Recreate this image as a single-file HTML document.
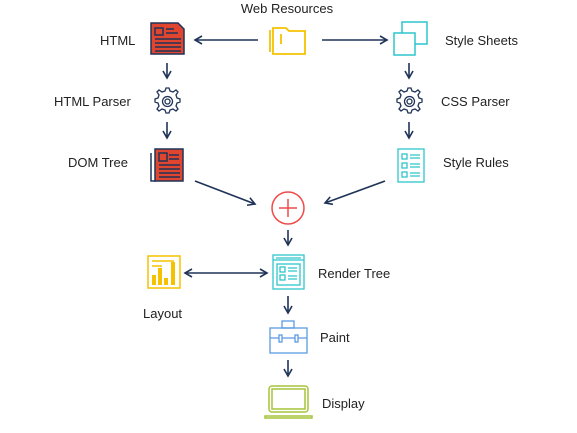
<!DOCTYPE html>
<html><head><style>body{margin:0;background:#fff}svg{display:block}text{font-family:"Liberation Sans",sans-serif;font-size:13px;fill:#222}</style></head><body>
<svg width="577" height="433" viewBox="0 0 577 433">
<defs><marker id="a" markerWidth="10" markerHeight="10" refX="8" refY="5" orient="auto" markerUnits="userSpaceOnUse"><path d="M1,1 L8,5 L1,9" fill="none" stroke="#1f3358" stroke-width="1.6"/></marker>
<marker id="b" markerWidth="10" markerHeight="10" refX="8" refY="5" orient="auto-start-reverse" markerUnits="userSpaceOnUse"><path d="M1,1 L8,5 L1,9" fill="none" stroke="#1f3358" stroke-width="1.6"/></marker></defs>
<g stroke="#1f3358" stroke-width="1.6" fill="none" marker-end="url(#a)">
<line x1="258" y1="40" x2="195" y2="40"/><line x1="322" y1="40" x2="387" y2="40"/>
<line x1="167" y1="63" x2="167" y2="78"/><line x1="167" y1="122" x2="167" y2="138"/>
<line x1="409" y1="63" x2="409" y2="78"/><line x1="409" y1="122" x2="409" y2="138"/>
<line x1="195" y1="181" x2="255" y2="204"/><line x1="385" y1="181" x2="325" y2="203"/>
<line x1="288" y1="230" x2="288" y2="245"/><line x1="288" y1="296" x2="288" y2="313"/><line x1="288" y1="360" x2="288" y2="376"/>
<line x1="185" y1="273" x2="267" y2="273" marker-start="url(#b)"/>
</g>
<text x="287" y="13" text-anchor="middle">Web Resources</text>
<text x="100" y="45">HTML</text><text x="445" y="45">Style Sheets</text>
<text x="54" y="106">HTML Parser</text><text x="441" y="106">CSS Parser</text>
<text x="68" y="167">DOM Tree</text><text x="443" y="167">Style Rules</text>
<text x="318" y="278">Render Tree</text><text x="143" y="318">Layout</text>
<text x="320" y="342">Paint</text><text x="322" y="408">Display</text>
<!-- HTML doc -->
<g stroke="#1f3358" stroke-width="1.5"><path d="M151,23 H178 L184,29 V54 H151 Z" fill="#e0452f"/>
<rect x="155" y="28" width="8" height="7" fill="#e0452f"/><path d="M166,29h8M166,33h12M155,39h26M155,43h26M155,47h26M155,51h26"/></g>
<!-- folder -->
<g stroke="#f5c200" stroke-width="1.8" fill="none"><path d="M273,28 H286 L289,31 H305 V54 H273 Z"/><path d="M270,30 V52 M281,34 V44"/></g>
<!-- style sheets -->
<g stroke="#2cc5cc" stroke-width="1.5" fill="#fff"><rect x="402" y="22" width="25" height="22"/><rect x="394" y="33" width="21" height="22"/></g>
<!-- gears -->
<g id="g" stroke="#1f3358" stroke-width="1.3" fill="none"><path d="M167,88 l2,0 l1,3 l3,1 l3,-2 l2,2 l-2,3 l1,3 l3,1 v3 l-3,1 l-1,3 l2,3 l-2,2 l-3,-2 l-3,1 l-1,3 h-3 l-1,-3 l-3,-1 l-3,2 l-2,-2 l2,-3 l-1,-3 l-3,-1 v-3 l3,-1 l1,-3 l-2,-3 l2,-2 l3,2 l3,-1 l1,-3 z"/><circle cx="167.5" cy="101.5" r="5"/><circle cx="167.5" cy="101.5" r="2.5"/></g>
<use href="#g" x="242"/>
<!-- DOM tree -->
<g stroke="#1f3358" stroke-width="1.5"><path d="M151,153 V181 H156" fill="#fff"/><rect x="155" y="149" width="28" height="32" fill="#e0452f"/>
<rect x="159" y="153" width="8" height="8" fill="#e0452f"/><path d="M169,155h10M169,159h10M159,165h21M159,169h21M159,173h21M159,177h21"/></g>
<!-- style rules -->
<g stroke="#2cc5cc" stroke-width="1.3" fill="none"><rect x="398" y="149" width="26" height="33"/><rect x="402" y="154" width="5" height="5"/><rect x="402" y="163" width="5" height="5"/><rect x="402" y="172" width="5" height="5"/><path d="M410,155h10M410,158h10M410,164h10M410,167h10M410,173h10M410,176h10"/></g>
<!-- plus -->
<circle cx="288" cy="208" r="16" fill="none" stroke="#f04a4a" stroke-width="1.5"/><path d="M279,208h18M288,199v18" stroke="#f04a4a" stroke-width="1.5"/>
<!-- render tree -->
<g stroke="#2cc5cc" stroke-width="1.3" fill="none"><rect x="273" y="255" width="31" height="34"/><path d="M273,260h31M276,258h25"/><rect x="277" y="264" width="23" height="21"/><rect x="280" y="267" width="5" height="5"/><rect x="280" y="275" width="5" height="5"/><path d="M288,268h9M288,271h9M288,276h9M288,279h9"/></g>
<!-- layout -->
<g stroke="#f5c200" stroke-width="1.5" fill="none"><rect x="148" y="256" width="32" height="32"/><path d="M152,261h22M152,266h10"/></g>
<g fill="#f5c200"><rect x="152" y="275" width="4" height="10"/><rect x="158" y="268" width="4" height="17"/><rect x="164" y="278" width="4" height="7"/><rect x="171" y="262" width="4" height="23"/></g>
<!-- paint -->
<g stroke="#5b9be0" stroke-width="1.3" fill="none"><rect x="282" y="321" width="12" height="7"/><rect x="270" y="328" width="37" height="25"/><path d="M270,338h37"/><rect x="279" y="335" width="3" height="7" fill="#fff"/><rect x="295" y="335" width="3" height="7" fill="#fff"/></g>
<!-- display -->
<g stroke="#a6c43a" stroke-width="1.5" fill="none"><rect x="269" y="386" width="39" height="26" rx="3"/><rect x="272" y="389" width="33" height="20"/><path d="M265,416h47v2h-47z"/></g>
</svg></body></html>
